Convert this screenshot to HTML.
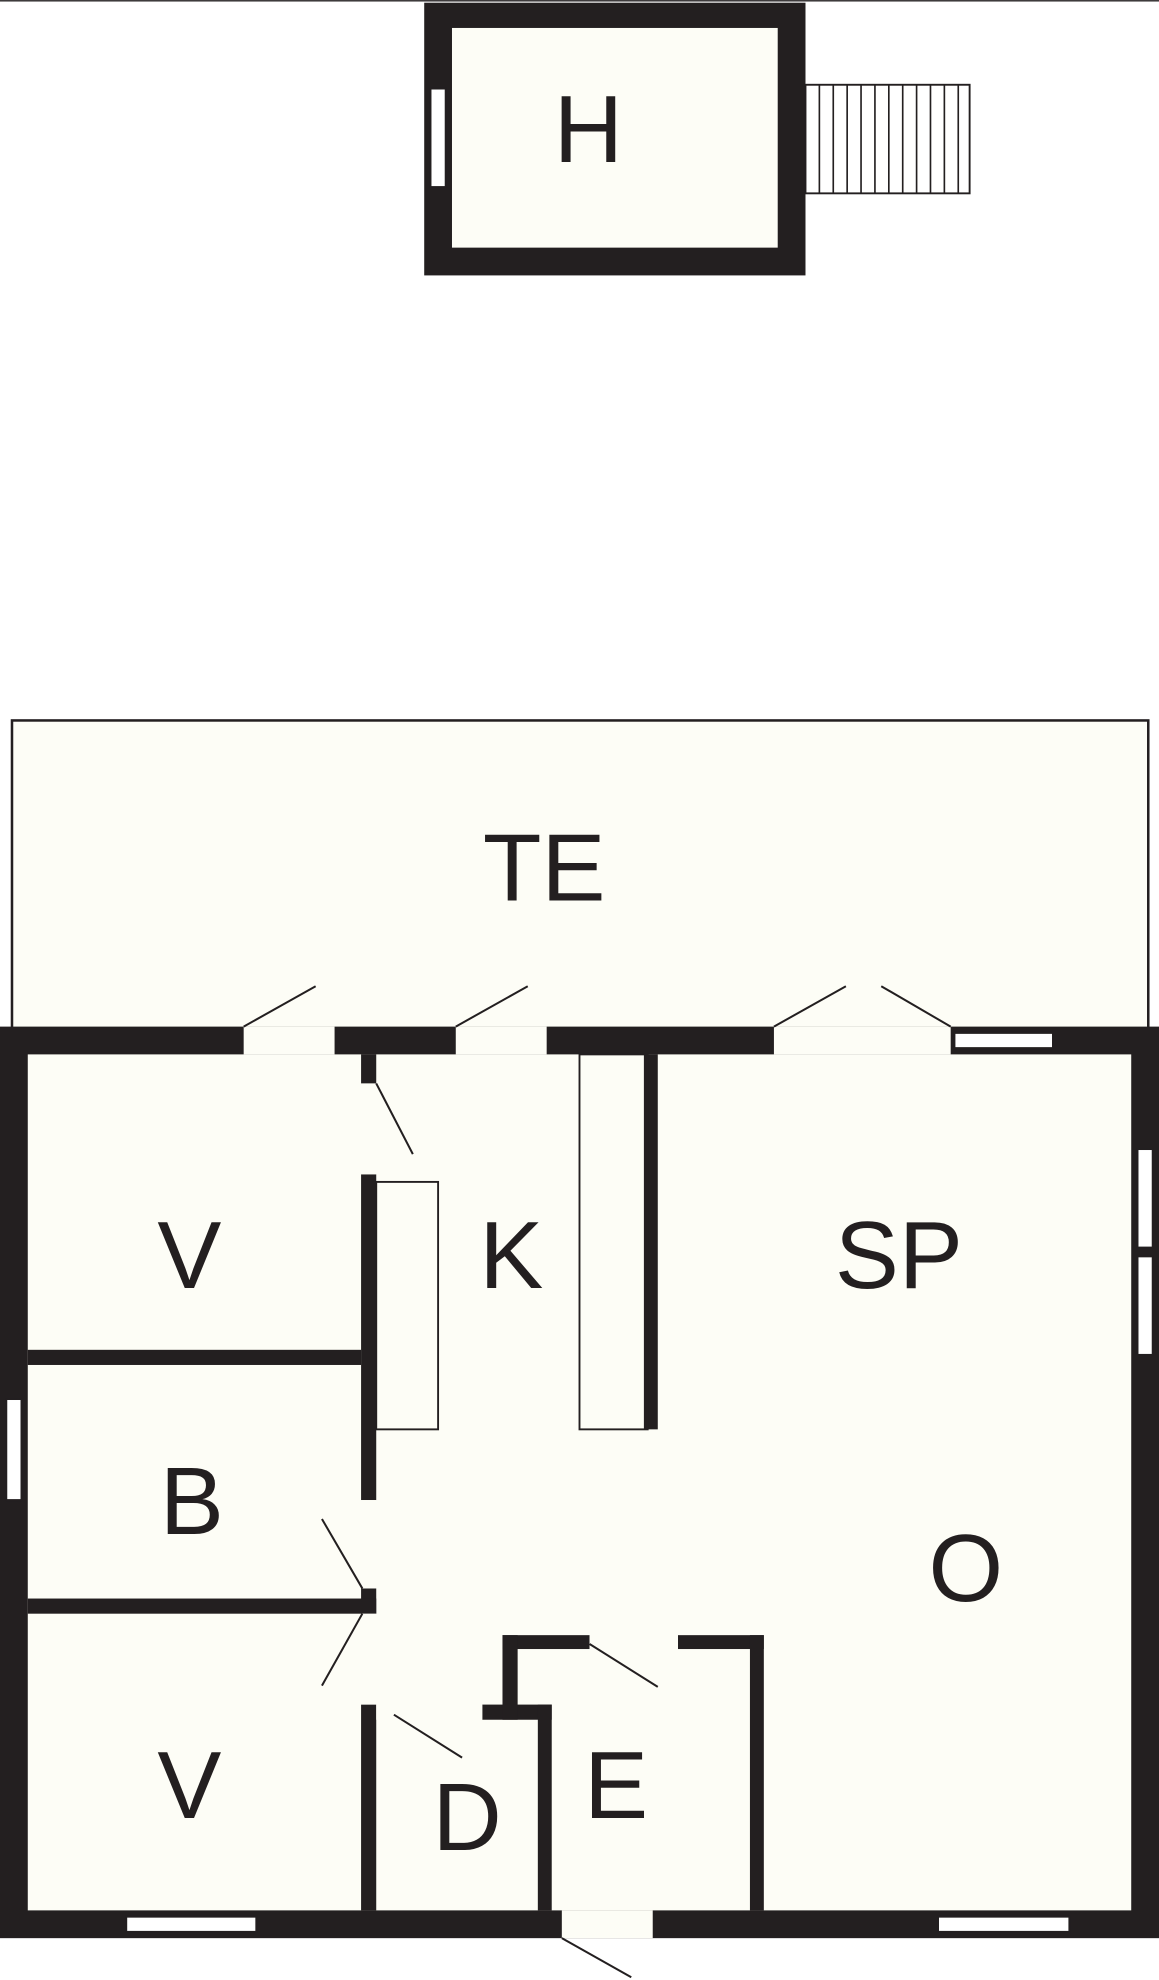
<!DOCTYPE html>
<html><head><meta charset="utf-8"><style>
html,body{margin:0;padding:0;background:#fff;}
svg{display:block;}
text{font-family:"Liberation Sans",sans-serif;font-size:76px;fill:#231f20;text-anchor:middle;}
</style></head><body>
<svg width="1159" height="1980" viewBox="0 0 918 1568" xmlns="http://www.w3.org/2000/svg">
<g stroke="#231f20" fill="none">
<line x1="0" y1="0.5" x2="918" y2="0.5" stroke-width="1"/>
<!-- H -->
<rect x="336" y="2" width="302" height="216" fill="#231f20" stroke="none"/>
<rect x="358" y="22" width="258" height="174" fill="#fdfdf6" stroke="none"/>
<rect x="341" y="70" width="12" height="78" fill="#fff" stroke-width="1.5"/>
<rect x="638" y="67" width="130" height="86" fill="#fff" stroke-width="1.5"/>
<path d="M649 67V153M660 67V153M671 67V153M682 67V153M693 67V153M704 67V153M715 67V153M726 67V153M737 67V153M748 67V153M759 67V153" stroke-width="1.3"/>
<!-- TE -->
<rect x="9.5" y="570.5" width="900" height="245" fill="#fdfdf6" stroke-width="2"/>
<!-- main fill -->
<rect x="0" y="813" width="918" height="722" fill="#231f20" stroke="none"/>
<rect x="22" y="835" width="874" height="678" fill="#fdfdf6" stroke="none"/>
</g>
<g fill="#231f20">
<!-- interior walls -->
<rect x="286" y="835" width="12" height="23"/>
<rect x="286" y="930" width="12" height="258"/>
<rect x="286" y="1258" width="12" height="20"/>
<rect x="286" y="1350" width="12" height="163"/>
<rect x="22" y="1069" width="264" height="12"/>
<rect x="22" y="1266" width="276" height="12"/>
<rect x="510" y="835" width="11" height="297"/>
<rect x="382" y="1350" width="55" height="12"/>
<rect x="426" y="1350" width="11" height="163"/>
<rect x="398" y="1295" width="69" height="11"/>
<rect x="537" y="1295" width="68" height="11"/>
<rect x="398" y="1295" width="12" height="67"/>
<rect x="594" y="1295" width="11" height="218"/>
</g>
<g fill="#fdfdf6" stroke="none">
<!-- openings -->
<rect x="193" y="813" width="72" height="22"/>
<rect x="361" y="813" width="72" height="22"/>
<rect x="613" y="813" width="140" height="22"/>
<rect x="445" y="1513" width="72" height="22"/>
<rect x="286" y="858" width="12" height="72"/>
<rect x="286" y="1188" width="12" height="70"/>
<rect x="286" y="1278" width="12" height="72"/>
<rect x="298" y="1350" width="84" height="12"/>
<rect x="467" y="1295" width="70" height="11"/>
</g>
<g stroke="#231f20" fill="#fff" stroke-width="1.5">
<rect x="756" y="818" width="78" height="12"/>
<rect x="901" y="910" width="12" height="78"/>
<rect x="901" y="995" width="12" height="78"/>
<rect x="5" y="1108" width="12" height="80"/>
<rect x="100" y="1518" width="103" height="12"/>
<rect x="743" y="1518" width="104" height="12"/>
<rect x="298" y="936" width="49" height="196" fill="none"/>
<rect x="459" y="835" width="54" height="297" fill="none"/>
</g>
<g stroke="#231f20" stroke-width="1.6">
<line x1="193" y1="813" x2="250" y2="781"/>
<line x1="361" y1="813" x2="418" y2="781"/>
<line x1="613" y1="813" x2="670" y2="781"/>
<line x1="753" y1="813" x2="698" y2="781"/>
<line x1="445" y1="1535" x2="500" y2="1566"/>
<line x1="298" y1="858" x2="327" y2="914"/>
<line x1="287" y1="1258" x2="255" y2="1203"/>
<line x1="287" y1="1278" x2="255" y2="1335"/>
<line x1="312" y1="1358" x2="366" y2="1392"/>
<line x1="467" y1="1302" x2="521" y2="1336"/>
</g>
<text x="466" y="128">H</text>
<text x="431" y="713">TE</text>
<text x="150" y="1020">V</text>
<text x="405" y="1020">K</text>
<text x="712" y="1020">SP</text>
<text x="152" y="1215">B</text>
<text x="765" y="1268">O</text>
<text x="150" y="1440">V</text>
<text x="370" y="1465">D</text>
<text x="488" y="1440">E</text>
</svg>
</body></html>
